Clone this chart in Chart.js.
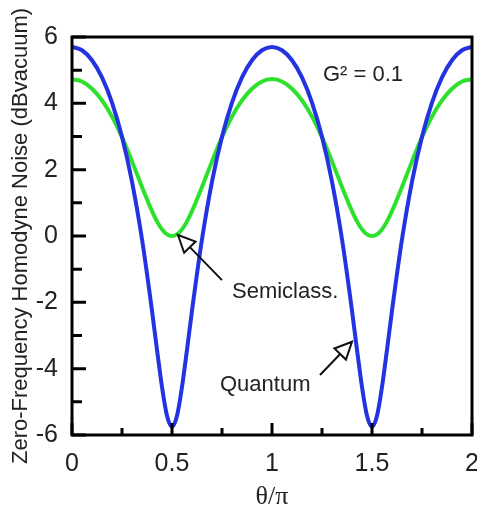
<!DOCTYPE html>
<html>
<head>
<meta charset="utf-8">
<script src="https://cdn.jsdelivr.net/npm/chart.js@4.4.1/dist/chart.umd.min.js"></script>
<style>
  body { margin: 0; background: #fff; }
  #c { display: block; }
</style>
</head>
<body>
<canvas id="c" width="477" height="510"></canvas>
<script>
// theta / pi
const theta = [0,0.05,0.1,0.15,0.2,0.25,0.3,0.35,0.4,0.425,0.45,0.475,0.5,0.525,0.55,0.575,0.6,0.65,0.7,0.75,0.8,0.85,0.9,0.95,1,
  1.05,1.1,1.15,1.2,1.25,1.3,1.35,1.4,1.425,1.45,1.475,1.5,1.525,1.55,1.575,1.6,1.65,1.7,1.75,1.8,1.85,1.9,1.95,2];

// noise in dB above vacuum
const quantum = [5.70,5.60,5.30,4.78,4.02,2.99,1.64,-0.10,-2.25,-3.43,-4.55,-5.42,-5.75,-5.42,-4.55,-3.43,-2.25,-0.10,1.64,2.99,4.02,4.78,5.30,5.60,5.70,
  5.60,5.30,4.78,4.02,2.99,1.64,-0.10,-2.25,-3.43,-4.55,-5.42,-5.75,-5.42,-4.55,-3.43,-2.25,-0.10,1.64,2.99,4.02,4.78,5.30,5.60,5.70];
const semiclass = [4.73,4.66,4.44,4.09,3.60,2.98,2.25,1.48,0.75,0.44,0.20,0.05,0.00,0.05,0.20,0.44,0.75,1.48,2.25,2.98,3.60,4.09,4.44,4.66,4.73,
  4.66,4.44,4.09,3.60,2.98,2.25,1.48,0.75,0.44,0.20,0.05,0.00,0.05,0.20,0.44,0.75,1.48,2.25,2.98,3.60,4.09,4.44,4.66,4.73];

const xTicks = [0, 0.5, 1, 1.5, 2];
const xTickLabels = ['0', '0.5', '1', '1.5', '2'];
const xMinorTicks = [0.25, 0.75, 1.25, 1.75];
const yTicks = [-6, -4, -2, 0, 2, 4, 6];
const yTickLabels = ['-6', '-4', '-2', '0', '2', '4', '6'];
const yMinorTicks = [-5, -3, -1, 1, 3, 5];

const sansFont = '"Liberation Sans", Arial, sans-serif';

function pts(ys) {
  return theta.map((t, i) => ({ x: t, y: ys[i] }));
}

// frame + inward ticks + labels/arrows
const decor = {
  id: 'decor',
  afterDatasetsDraw(chart) {
    const { ctx, chartArea: a, scales: { x, y } } = chart;
    ctx.save();
    ctx.strokeStyle = '#000';
    ctx.lineWidth = 3;
    ctx.lineCap = 'butt';
    ctx.beginPath();
    yTicks.forEach(v => { const py = y.getPixelForValue(v); ctx.moveTo(a.left, py); ctx.lineTo(a.left + 14, py); });
    yMinorTicks.forEach(v => { const py = y.getPixelForValue(v); ctx.moveTo(a.left, py); ctx.lineTo(a.left + 10, py); });
    xTicks.forEach(v => { const px = x.getPixelForValue(v); ctx.moveTo(px, a.bottom); ctx.lineTo(px, a.bottom - 12); });
    xMinorTicks.forEach(v => { const px = x.getPixelForValue(v); ctx.moveTo(px, a.bottom); ctx.lineTo(px, a.bottom - 7); });
    ctx.stroke();
    ctx.strokeRect(a.left, a.top, a.right - a.left, a.bottom - a.top);

    ctx.fillStyle = '#222';
    ctx.font = '22px ' + sansFont;
    ctx.textBaseline = 'middle';
    ctx.textAlign = 'left';
    ctx.fillText('G\u00b2 = 0.1', x.getPixelForValue(1.255), y.getPixelForValue(4.85));
    ctx.fillText('Semiclass.', x.getPixelForValue(0.80), y.getPixelForValue(-1.69));
    ctx.fillText('Quantum', x.getPixelForValue(0.74), y.getPixelForValue(-4.49));

    arrow(ctx, x.getPixelForValue(0.75), y.getPixelForValue(-1.33), x.getPixelForValue(0.53), y.getPixelForValue(0.03));
    arrow(ctx, x.getPixelForValue(1.24), y.getPixelForValue(-4.19), x.getPixelForValue(1.40), y.getPixelForValue(-3.19));
    ctx.restore();
  }
};

function arrow(ctx, x0, y0, x1, y1) {
  const ang = Math.atan2(y1 - y0, x1 - x0);
  const len = 17, hw = 8;
  const bx = x1 - len * Math.cos(ang), by = y1 - len * Math.sin(ang);
  ctx.strokeStyle = '#111';
  ctx.lineWidth = 2;
  ctx.beginPath();
  ctx.moveTo(x0, y0);
  ctx.lineTo(bx, by);
  ctx.stroke();
  ctx.beginPath();
  ctx.moveTo(x1, y1);
  ctx.lineTo(bx + hw * Math.sin(ang), by - hw * Math.cos(ang));
  ctx.lineTo(bx - hw * Math.sin(ang), by + hw * Math.cos(ang));
  ctx.closePath();
  ctx.fillStyle = '#fff';
  ctx.fill();
  ctx.stroke();
}

new Chart(document.getElementById('c'), {
  type: 'line',
  data: {
    datasets: [
      { label: 'Quantum', data: pts(quantum), borderColor: '#2333e0', borderWidth: 4, pointRadius: 0, cubicInterpolationMode: 'monotone', fill: false },
      { label: 'Semiclass.', data: pts(semiclass), borderColor: '#2ee02e', borderWidth: 4, pointRadius: 0, cubicInterpolationMode: 'monotone', fill: false }
    ]
  },
  options: {
    responsive: false,
    animation: false,
    layout: { padding: { top: 37, right: 5, left: 0, bottom: 0 } },
    plugins: { legend: { display: false }, tooltip: { enabled: false } },
    scales: {
      x: {
        type: 'linear', min: 0, max: 2,
        afterBuildTicks: s => { s.ticks = xTicks.map(v => ({ value: v })); },
        afterFit: s => { s.height = 75; s.paddingLeft = 0; s.paddingRight = 0; },
        grid: { display: false, drawTicks: false },
        border: { display: false },
        ticks: { color: '#222', padding: 14, maxRotation: 0, font: { family: sansFont, size: 25 },
          callback: (v, i) => xTickLabels[i] },
        title: { display: true, text: '\u03b8/\u03c0', color: '#222', padding: { top: 0, bottom: -3 }, font: { family: '"Liberation Serif", "Times New Roman", serif', size: 26 } }
      },
      y: {
        type: 'linear', min: -6, max: 6,
        afterBuildTicks: s => { s.ticks = yTicks.map(v => ({ value: v })); },
        afterFit: s => { s.width = 72; },
        grid: { display: false, drawTicks: false },
        border: { display: false },
        ticks: { color: '#222', padding: 14, font: { family: sansFont, size: 25 },
          callback: (v, i) => yTickLabels[i] },
        title: { display: true, text: 'Zero-Frequency Homodyne Noise (dBvacuum)', color: '#222', padding: { top: 8, bottom: 0 }, font: { family: sansFont, size: 22 } }
      }
    }
  },
  plugins: [decor]
});
</script>
</body>
</html>
